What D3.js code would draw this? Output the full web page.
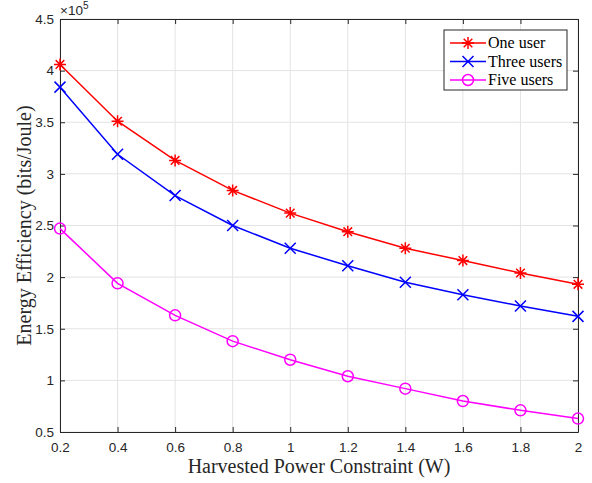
<!DOCTYPE html>
<html>
<head>
<meta charset="utf-8">
<script src="https://cdn.jsdelivr.net/npm/d3@7"></script>
<style>
  body { margin: 0; background: #fff; }
  .tick text { font-family: "Liberation Sans", Arial, sans-serif; font-size: 13.5px; fill: #262626; }
</style>
</head>
<body>
<svg id="chart" width="592" height="483"></svg>
<script>
// Harvested power constraint (W)
var powers = [0.2, 0.4, 0.6, 0.8, 1.0, 1.2, 1.4, 1.6, 1.8, 2.0];
// Energy efficiency, units of 1e5 bits/Joule
var oneUser    = [4.06, 3.51, 3.13, 2.84, 2.62, 2.44, 2.28, 2.16, 2.04, 1.93];
var threeUsers = [3.84, 3.19, 2.79, 2.50, 2.28, 2.11, 1.95, 1.83, 1.72, 1.62];
var fiveUsers  = [2.47, 1.94, 1.63, 1.38, 1.20, 1.04, 0.92, 0.80, 0.71, 0.63];
var xTicks = [0.2, 0.4, 0.6, 0.8, 1, 1.2, 1.4, 1.6, 1.8, 2];
var yTicks = [0.5, 1, 1.5, 2, 2.5, 3, 3.5, 4, 4.5];
var seriesNames = ["One user", "Three users", "Five users"];

var series = [
  { name: seriesNames[0], values: oneUser,    color: "#ff0000", marker: "star" },
  { name: seriesNames[1], values: threeUsers, color: "#0000ff", marker: "cross" },
  { name: seriesNames[2], values: fiveUsers,  color: "#ff00ff", marker: "circle" }
];

// plot box in pixels (note: "top" would clash with window.top)
var pLeft = 60, pRight = 578, pTop = 19, pBottom = 432;
var svg = d3.select("#chart");

var x = d3.scaleLinear().domain([0.2, 2]).range([pLeft, pRight]);
var y = d3.scaleLinear().domain([0.5, 4.5]).range([pBottom, pTop]);

// grid
svg.append("g").selectAll("line").data(xTicks).join("line")
  .attr("x1", d => x(d)).attr("x2", d => x(d))
  .attr("y1", pTop).attr("y2", pBottom)
  .attr("stroke", "#e3e3e3").attr("stroke-width", 1);
svg.append("g").selectAll("line").data(yTicks).join("line")
  .attr("x1", pLeft).attr("x2", pRight)
  .attr("y1", d => y(d)).attr("y2", d => y(d))
  .attr("stroke", "#e3e3e3").attr("stroke-width", 1);

// axes (ticks pointing inward, MATLAB style box)
var fmt = d => String(d);
svg.append("g").attr("transform", "translate(0," + pBottom + ")")
  .call(d3.axisBottom(x).tickValues(xTicks).tickFormat(fmt).tickSizeInner(-5).tickSizeOuter(0).tickPadding(10));
svg.append("g").attr("transform", "translate(" + pLeft + ",0)")
  .call(d3.axisLeft(y).tickValues(yTicks).tickFormat(fmt).tickSizeInner(-5).tickSizeOuter(0).tickPadding(6));
svg.append("g").attr("transform", "translate(0," + pTop + ")")
  .call(d3.axisTop(x).tickValues(xTicks).tickFormat("").tickSizeInner(-5).tickSizeOuter(0));
svg.append("g").attr("transform", "translate(" + pRight + ",0)")
  .call(d3.axisRight(y).tickValues(yTicks).tickFormat("").tickSizeInner(-5).tickSizeOuter(0));
svg.selectAll(".domain, .tick line").attr("stroke", "#262626").attr("stroke-width", 1);

// exponent label
var ex = svg.append("text").attr("x", pLeft).attr("y", 15)
  .attr("font-family", "Liberation Sans, Arial, sans-serif").attr("font-size", 13.5).attr("fill", "#262626");
ex.append("tspan").text("\u00d710");
ex.append("tspan").attr("dy", -6).attr("font-size", 10).text("5");

// markers
function drawMarker(g, kind, cx, cy, color) {
  if (kind === "circle") {
    g.append("circle").attr("cx", cx).attr("cy", cy).attr("r", 5.5)
      .attr("fill", "none").attr("stroke", color).attr("stroke-width", 1.5);
  } else if (kind === "cross") {
    var s = 5.5;
    g.append("path").attr("d", "M" + (cx - s) + "," + (cy - s) + "L" + (cx + s) + "," + (cy + s) +
      "M" + (cx - s) + "," + (cy + s) + "L" + (cx + s) + "," + (cy - s))
      .attr("stroke", color).attr("stroke-width", 1.5);
  } else {
    var r = 6, d = 4.3;
    g.append("path").attr("d",
      "M" + (cx - r) + "," + cy + "L" + (cx + r) + "," + cy +
      "M" + cx + "," + (cy - r) + "L" + cx + "," + (cy + r) +
      "M" + (cx - d) + "," + (cy - d) + "L" + (cx + d) + "," + (cy + d) +
      "M" + (cx - d) + "," + (cy + d) + "L" + (cx + d) + "," + (cy - d))
      .attr("stroke", color).attr("stroke-width", 1.5);
  }
}

var line = d3.line().x((d, i) => x(powers[i])).y(d => y(d));
series.forEach(s => {
  svg.append("path").datum(s.values).attr("d", line)
    .attr("fill", "none").attr("stroke", s.color).attr("stroke-width", 1.5);
  var g = svg.append("g");
  s.values.forEach((v, i) => drawMarker(g, s.marker, x(powers[i]), y(v), s.color));
});

// axis titles
svg.append("text").attr("x", (pLeft + pRight) / 2).attr("y", 473).attr("text-anchor", "middle")
  .attr("font-family", "Liberation Serif, Times New Roman, serif").attr("font-size", 20).attr("fill", "#262626")
  .text("Harvested Power Constraint (W)");
svg.append("text").attr("transform", "translate(31," + (pTop + pBottom) / 2 + ") rotate(-90)")
  .attr("text-anchor", "middle")
  .attr("font-family", "Liberation Serif, Times New Roman, serif").attr("font-size", 20).attr("fill", "#262626")
  .text("Energy Efficiency (bits/Joule)");

// legend
var lg = svg.append("g");
lg.append("rect").attr("x", 444).attr("y", 30).attr("width", 123).attr("height", 60)
  .attr("fill", "#fff").attr("stroke", "#262626").attr("stroke-width", 1);
series.forEach((s, i) => {
  var ly = 43 + i * 18.5;
  lg.append("line").attr("x1", 450).attr("x2", 486).attr("y1", ly).attr("y2", ly)
    .attr("stroke", s.color).attr("stroke-width", 1.5);
  drawMarker(lg, s.marker, 468, ly, s.color);
  lg.append("text").attr("x", 488).attr("y", ly + 5)
    .attr("font-family", "Liberation Serif, Times New Roman, serif").attr("font-size", 16).attr("fill", "#000")
    .text(s.name);
});
</script>
</body>
</html>
